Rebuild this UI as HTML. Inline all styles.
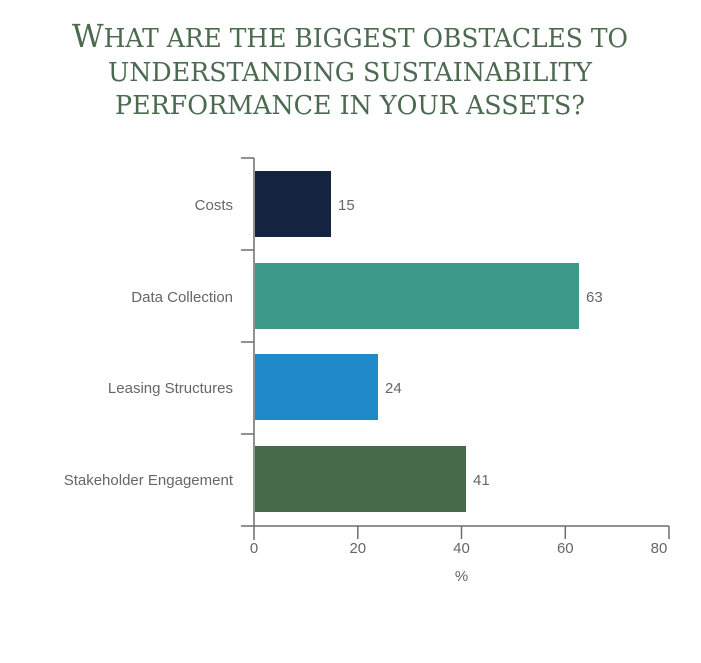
<!DOCTYPE html>
<html><head><meta charset="utf-8"><style>
html,body{margin:0;padding:0;background:#fff;}
body{width:701px;height:658px;overflow:hidden;}
</style></head><body>
<svg width="701" height="658" xmlns="http://www.w3.org/2000/svg">
<g font-family="DejaVu Serif, serif" fill="#4b6a4f" text-anchor="middle" font-size="26">
<text x="350" y="47" textLength="556" lengthAdjust="spacingAndGlyphs"><tspan font-size="32">W</tspan>HAT ARE THE BIGGEST OBSTACLES TO</text>
<text x="350" y="81" textLength="484" lengthAdjust="spacingAndGlyphs">UNDERSTANDING SUSTAINABILITY</text>
<text x="350" y="114" textLength="470" lengthAdjust="spacingAndGlyphs">PERFORMANCE IN YOUR ASSETS?</text>
</g>
<g stroke="#6b6f6d" stroke-width="1.5" fill="none">
<line x1="254" y1="158" x2="254" y2="540"/>
<line x1="241" y1="526" x2="669" y2="526"/>
<line x1="241" y1="158" x2="254" y2="158"/>
<line x1="241" y1="250" x2="254" y2="250"/>
<line x1="241" y1="342" x2="254" y2="342"/>
<line x1="241" y1="434" x2="254" y2="434"/>
<line x1="357.8" y1="526" x2="357.8" y2="539"/>
<line x1="461.5" y1="526" x2="461.5" y2="539"/>
<line x1="565.3" y1="526" x2="565.3" y2="539"/>
<line x1="669" y1="526" x2="669" y2="539"/>
</g>
<rect x="255" y="171" width="76" height="66" fill="#14233f"/>
<rect x="255" y="263" width="324" height="66" fill="#3d9a8b"/>
<rect x="255" y="354" width="123" height="66" fill="#2089c8"/>
<rect x="255" y="446" width="211" height="66" fill="#476a4a"/>
<g font-family="Liberation Sans, sans-serif" font-size="15" fill="#666">
<g text-anchor="end">
<text x="233" y="210">Costs</text>
<text x="233" y="302">Data Collection</text>
<text x="233" y="393">Leasing Structures</text>
<text x="233" y="485">Stakeholder Engagement</text>
</g>
<text x="338" y="210">15</text>
<text x="586" y="302">63</text>
<text x="385" y="393">24</text>
<text x="473" y="485">41</text>
<g text-anchor="middle">
<text x="254" y="553">0</text>
<text x="357.8" y="553">20</text>
<text x="461.5" y="553">40</text>
<text x="565.3" y="553">60</text>
<text x="659" y="553">80</text>
<text x="461.5" y="581">%</text>
</g>
</g>
</svg>
</body></html>
